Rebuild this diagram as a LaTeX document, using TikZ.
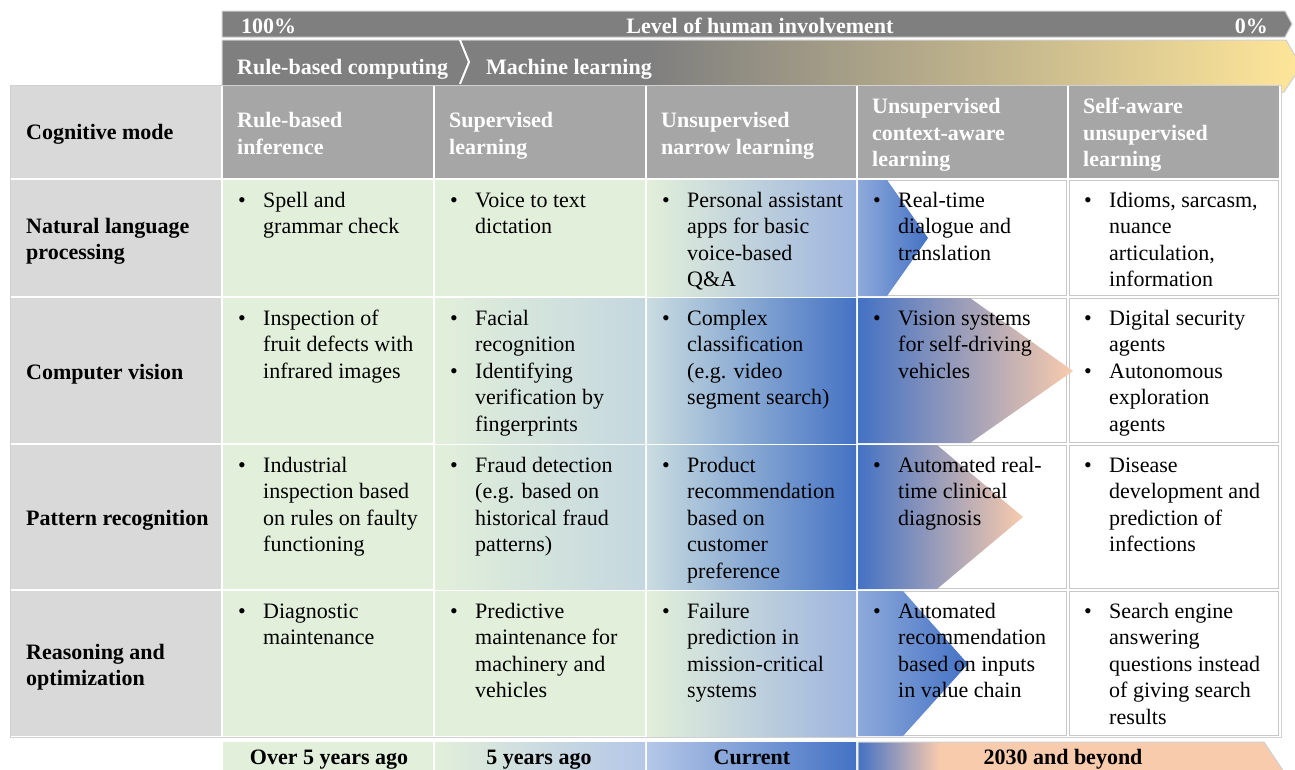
\documentclass[tikz,border=0pt]{standalone}
\usepackage{fontspec}
\setmainfont{Liberation Serif}
\definecolor{gA}{HTML}{E2EFDA}
\definecolor{gB}{HTML}{C4D7DF}
\definecolor{gC}{HTML}{C9DCE0}
\definecolor{lb}{HTML}{9DB4DE}
\definecolor{lb2}{HTML}{B4C7E7}
\definecolor{ab}{HTML}{8EAADB}
\definecolor{db}{HTML}{4472C4}
\definecolor{pe}{HTML}{F8CBAD}
\definecolor{barG}{HTML}{7F7F7F}
\definecolor{barY}{HTML}{FFE699}
\definecolor{hdrG}{HTML}{A6A6A6}
\definecolor{labG}{HTML}{D9D9D9}
\definecolor{outl}{HTML}{D0D0D0}
\definecolor{cellline}{HTML}{C8C8C8}
\newcommand\bu{\makebox[25pt][l]{\textbullet}}
\newcommand\ind{\hspace*{25pt}}
\newcommand\fs{\rule{0pt}{21pt}}
\begin{document}
\begin{tikzpicture}[x=1pt,y=-1pt,
  body/.style={inner sep=0pt, anchor=north west, align=left, font=\fontsize{22}{26.5}\selectfont},
  hdr/.style={body, font=\fontsize{22}{26.5}\selectfont\bfseries, text=white},
  lab/.style={body, font=\fontsize{22}{26.5}\selectfont\bfseries},
  bartext/.style={inner sep=0pt, font=\fontsize{22}{26.5}\selectfont\bfseries},
  wcell/.style={fill=white, draw=cellline, line width=1pt},
  outline/.style={draw=outl, line width=1pt}]
\clip (0,0) rectangle (1295,769);
\fill[white] (0,0) rectangle (1295,769);

% top bar
\path[fill=barG, outline] (222,11) -- (1285,11) -- (1292,24) -- (1285,37) -- (222,37) -- cycle;
% second bar
\fill[barG] (222,40) -- (1286,40) -- (1301,66) -- (1284,92) -- (222,92) -- cycle;
\begin{scope}
\clip (222,40) -- (1286,40) -- (1301,66) -- (1284,92) -- (222,92) -- cycle;
\shade[left color=barG, right color=barY] (650,38) rectangle (1302,94);
\end{scope}
\path[outline] (222,40) -- (1286,40) -- (1301,66) -- (1284,92) -- (222,92) -- cycle;
\draw[white, line width=2pt] (460,40) -- (469,62) -- (460,84);

% table frame
\path[fill=white, outline] (10,85) rectangle (1281,737);

% first column
\fill[labG] (11,86) rectangle (221,178);
\fill[labG] (11,180) rectangle (221,296);
\fill[labG] (11,298) rectangle (221,443);
\fill[labG] (11,445) rectangle (221,589);
\fill[labG] (11,591) rectangle (221,736);
% header row
\fill[hdrG] (223,86) rectangle (433,178);
\fill[hdrG] (435,86) rectangle (645,178);
\fill[hdrG] (647,86) rectangle (856,178);
\fill[hdrG] (858,86) rectangle (1067,178);
\fill[hdrG] (1069,86) rectangle (1279,178);
% column 1
\fill[gA] (223,180) rectangle (433,296);
\fill[gA] (223,298) rectangle (433,443);
\fill[gA] (223,445) rectangle (433,589);
\fill[gA] (223,591) rectangle (433,736);
% column 2
\fill[gA] (435,180) rectangle (645,296);
\shade[left color=gA, right color=gB] (435,298) rectangle (645,443);
\shade[left color=gA, right color=gB] (435,445) rectangle (645,589);
\fill[gA] (435,591) rectangle (645,736);
% column 3
\shade[left color=gA, right color=lb] (647,180) rectangle (856,296);
\shade[left color=gC, right color=db] (647,298) rectangle (856,443);
\shade[left color=gC, right color=db] (647,445) rectangle (856,589);
\shade[left color=gA, right color=lb] (647,591) rectangle (856,736);
% columns 4 and 5
\path[wcell] (858.5,180.5) rectangle (1066.5,295.5);
\path[wcell] (858.5,298.5) rectangle (1066.5,442.5);
\path[wcell] (858.5,445.5) rectangle (1066.5,588.5);
\path[wcell] (858.5,591.5) rectangle (1066.5,735.5);
\path[wcell] (1069.5,180.5) rectangle (1278.5,295.5);
\path[wcell] (1069.5,298.5) rectangle (1278.5,442.5);
\path[wcell] (1069.5,445.5) rectangle (1278.5,588.5);
\path[wcell] (1069.5,591.5) rectangle (1278.5,735.5);
% arrow shapes in column 4
\shade[left color=ab, right color=db] (858,180) -- (887,180) -- (928,238) -- (887,296) -- (858,296) -- cycle;
\shade[left color=db, right color=pe] (858,298) -- (970,298) -- (1073,371) -- (970,443) -- (858,443) -- cycle;
\shade[left color=db, right color=pe] (858,445) -- (937,445) -- (1023,517) -- (937,589) -- (858,589) -- cycle;
\shade[left color=ab, right color=db] (858,591) -- (903,591) -- (968,664) -- (903,736) -- (858,736) -- cycle;

% top bar texts
\node[bartext, text=white, anchor=base west] (p100) at (241,33) {100\%};
\node[bartext, text=white, anchor=base] (lvl) at (760,33) {Level of human involvement};
\node[bartext, text=white, anchor=base east] (p0) at (1268,33) {0\%};
\node[bartext, text=white, anchor=base west] (rbc) at (237,74) {Rule-based computing};
\node[bartext, text=white, anchor=base west] (ml) at (486,74) {Machine learning};

% header texts
\node[lab, anchor=base west] (hcog) at (26,139) {Cognitive mode};
\node[hdr] (h1) at (237,106.5) {\fs Rule-based\\inference};
\node[hdr] (h2) at (449,106.5) {\fs Supervised\\learning};
\node[hdr] (h3) at (661,106.5) {\fs Unsupervised\\narrow learning};
\node[hdr] (h4) at (872,92.5) {\fs Unsupervised\\context-aware\\learning};
\node[hdr] (h5) at (1083,92.5) {\fs Self-aware\\unsupervised\\learning};

% row labels
\node[lab] (l1) at (26,212) {\fs Natural language\\processing};
\node[lab, anchor=base west] (l2) at (26,379) {Computer vision};
\node[lab, anchor=base west] (l3) at (26,525) {Pattern recognition};
\node[lab] (l4) at (26,638) {\fs Reasoning and\\optimization};

% row 1
\node[body] (c11) at (238,186) {\fs\bu Spell and\\\ind grammar check};
\node[body] (c12) at (450,186) {\fs\bu Voice to text\\\ind dictation};
\node[body] (c13) at (662,186) {\fs\bu Personal assistant\\\ind apps for basic\\\ind voice-based\\\ind Q\&A};
\node[body] (c14) at (873,186) {\fs\bu Real-time\\\ind dialogue and\\\ind translation};
\node[body] (c15) at (1084,186) {\fs\bu Idioms, sarcasm,\\\ind nuance\\\ind articulation,\\\ind information};
% row 2
\node[body] (c21) at (238,304) {\fs\bu Inspection of\\\ind fruit defects with\\\ind infrared images};
\node[body] (c22) at (450,304) {\fs\bu Facial\\\ind recognition\\\bu Identifying\\\ind verification by\\\ind fingerprints};
\node[body] (c23) at (662,304) {\fs\bu Complex\\\ind classification\\\ind (e.g. video\\\ind segment search)};
\node[body] (c24) at (873,304) {\fs\bu Vision systems\\\ind for self-driving\\\ind vehicles};
\node[body] (c25) at (1084,304) {\fs\bu Digital security\\\ind agents\\\bu Autonomous\\\ind exploration\\\ind agents};
% row 3
\node[body] (c31) at (238,451) {\fs\bu Industrial\\\ind inspection based\\\ind on rules on faulty\\\ind functioning};
\node[body] (c32) at (450,451) {\fs\bu Fraud detection\\\ind (e.g. based on\\\ind historical fraud\\\ind patterns)};
\node[body] (c33) at (662,451) {\fs\bu Product\\\ind recommendation\\\ind based on\\\ind customer\\\ind preference};
\node[body] (c34) at (873,451) {\fs\bu Automated real-\\\ind time clinical\\\ind diagnosis};
\node[body] (c35) at (1084,451) {\fs\bu Disease\\\ind development and\\\ind prediction of\\\ind infections};
% row 4
\node[body] (c41) at (238,597) {\fs\bu Diagnostic\\\ind maintenance};
\node[body] (c42) at (450,597) {\fs\bu Predictive\\\ind maintenance for\\\ind machinery and\\\ind vehicles};
\node[body] (c43) at (662,597) {\fs\bu Failure\\\ind prediction in\\\ind mission-critical\\\ind systems};
\node[body] (c44) at (873,597) {\fs\bu Automated\\\ind recommendation\\\ind based on inputs\\\ind in value chain};
\node[body] (c45) at (1084,597) {\fs\bu Search engine\\\ind answering\\\ind questions instead\\\ind of giving search\\\ind results};

% bottom bar
\fill[gA] (223,742) rectangle (433,775);
\shade[left color=gA, right color=lb2] (435,742) rectangle (645,775);
\shade[left color=lb2, right color=db] (647,742) rectangle (856,775);
\fill[pe] (858,742) -- (1264,742) -- (1284,772) -- (1264,802) -- (858,802) -- cycle;
\shade[left color=db, right color=pe] (858,742) rectangle (940,775);
\path[outline] (858,742) -- (1264,742) -- (1284,772) -- (1264,802) -- (858,802) -- cycle;
\node[bartext, anchor=base] (t1) at (329,764) {Over 5 years ago};
\node[bartext, anchor=base] (t2) at (539,764) {5 years ago};
\node[bartext, anchor=base] (t3) at (752,764) {Current};
\node[bartext, anchor=base] (t4) at (1063,764) {2030 and beyond};
\end{tikzpicture}
\end{document}
